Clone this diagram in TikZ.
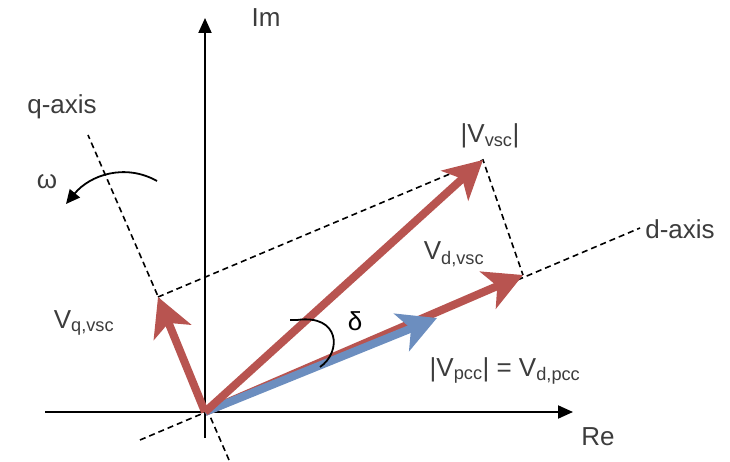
\documentclass[tikz,border=0pt]{standalone}
\usepackage{fontspec}
\setmainfont{Liberation Sans}
\usetikzlibrary{arrows.meta}
\definecolor{vred}{RGB}{184,84,80}
\definecolor{vblue}{RGB}{108,142,191}
\definecolor{txt}{RGB}{60,60,60}
\tikzset{
  axis/.style={line width=2pt, -{Triangle[length=15pt,width=13pt]}},
  dashline/.style={line width=1.6pt, dash pattern=on 6pt off 4pt},
  vec/.style={line width=8pt, -{Stealth[length=38pt,width=40pt,inset=10pt]}},
  lbl/.style={text=txt, font=\fontsize{26}{30}\selectfont, inner sep=0pt},
}
\begin{document}
\begin{tikzpicture}[x=1pt,y=-1pt]
\useasboundingbox (0,0) rectangle (730,462);
\coordinate (O) at (205,412);
\coordinate (ReL) at (45,412);
\coordinate (ReR) at (573,412);
\coordinate (ImB) at (205,438);
\coordinate (ImT) at (205,18);
\coordinate (Vq) at (158,297);
\coordinate (Vv) at (483,160);
\coordinate (Vd) at (523,275);
\coordinate (Vp) at (437,318);
\coordinate (dL) at (140,440);
\coordinate (dR) at (640,228);
\coordinate (qT) at (88,135);
\coordinate (qB) at (229,460);
% axes
\draw[axis] (ReL) -- (ReR);
\draw[axis] (ImB) -- (ImT);
% dq axes
\draw[dashline] (dL) -- (dR);
\draw[dashline] (qB) -- (qT);
\draw[dashline] (Vq) -- (Vv) -- (Vd);
% vectors
\draw[vec, vred] (O) -- (Vd);
\draw[vec, vblue] (O) -- (Vp);
\draw[vec, vred] (O) -- (Vv);
\draw[vec, vred] (O) -- (Vq);
% delta arc
\coordinate (a1) at (297,320);
\coordinate (a2) at (320,367);
\draw[line width=1.8pt] (a1) .. controls (340,314) and (342,352) .. (a2);
\draw[line width=1.8pt] (a1) -- ++(-7,0);
% omega arrow
\coordinate (w1) at (157,181);
\coordinate (w2) at (66,204);
\draw[line width=1.8pt, -{Triangle[length=14pt,width=13pt]}] (w1) .. controls (125,163) and (90,175) .. (w2);
% labels
\node[lbl] (lIm) at (266,18) {Im};
\node[lbl] (lRe) at (598,437) {Re};
\node[lbl] (lq) at (62,107) {q-axis};
\node[lbl] (ld) at (680,229) {d-axis};
\node[lbl] (lw) at (47,182) {ω};
\node[lbl] (lvv) at (490,136) {|V\textsubscript{vsc}|};
\node[lbl] (lvd) at (454,254) {V\textsubscript{d,vsc}};
\node[lbl] (lvq) at (84,323) {V\textsubscript{q,vsc}};
\node[lbl, text=black] (ldel) at (355,321) {δ};
\node[lbl] (lvp) at (505,371) {|V\textsubscript{pcc}| = V\textsubscript{d,pcc}};
\end{tikzpicture}
\end{document}
